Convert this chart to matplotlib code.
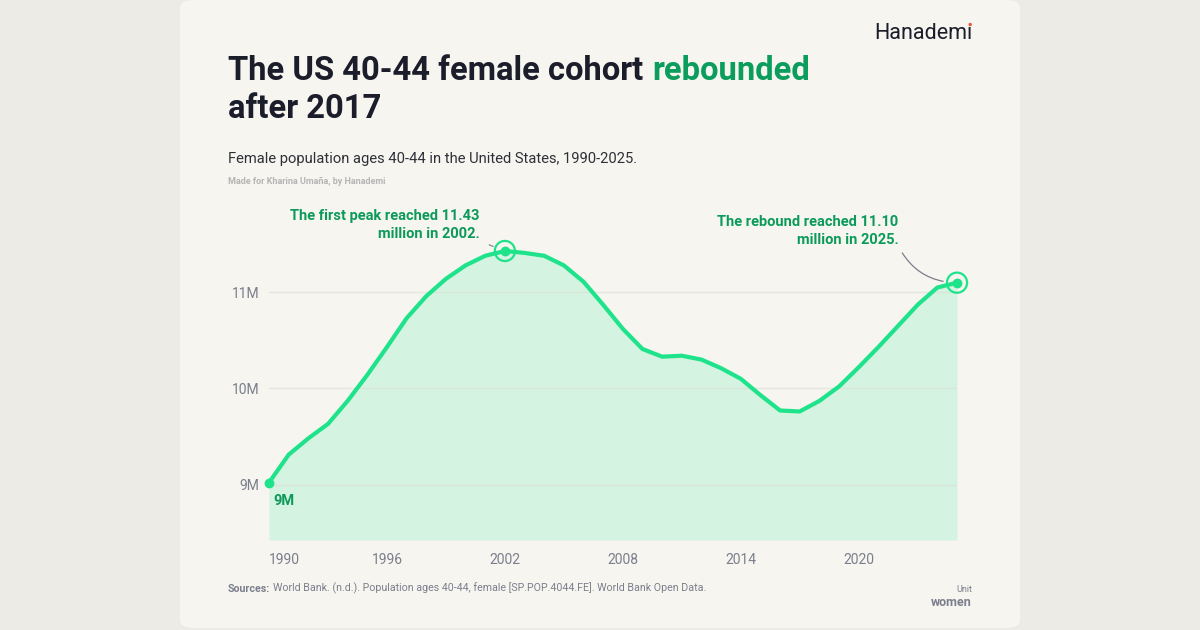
import numpy as np
import matplotlib.pyplot as plt
from matplotlib.patches import FancyBboxPatch, Ellipse

# data (millions of women aged 40-44)
years = list(range(1990, 2026))
women = [9.02, 9.31, 9.48, 9.63, 9.87, 10.14, 10.43, 10.73, 10.96, 11.14,
         11.28, 11.38, 11.43, 11.41, 11.38, 11.28, 11.11, 10.87, 10.62, 10.41,
         10.33, 10.34, 10.30, 10.21, 10.10, 9.93, 9.77, 9.76, 9.87, 10.02,
         10.22, 10.43, 10.65, 10.87, 11.05, 11.10]
x_ticks = [1990, 1996, 2002, 2008, 2014, 2020]
y_ticks = [9, 10, 11]
y_labels = ['9M', '10M', '11M']

W, H = 1200, 630
LINE = '#1ee38a'
FILL = '#d5f3e1'
DARKGREEN = '#0c9a5a'
INK = '#1b1d2a'
GREY = '#7b7e8c'

plt.rcParams['font.family'] = ['Roboto', 'DejaVu Sans']

fig = plt.figure(figsize=(W / 100, H / 100), dpi=100)
fig.patch.set_facecolor('#ecebe6')


def fx(px):
    return px / W


def fy(py):
    return 1 - py / H


# card
card = FancyBboxPatch((fx(180), fy(628)), fx(840), 628 / H,
                      boxstyle='round,pad=0,rounding_size=0.012',
                      transform=fig.transFigure, facecolor='#f6f5f0',
                      edgecolor='none', zorder=-5)
fig.patches.append(card)

# plot area: x 269..957, y 200..540 px
ymin = 9 - (540 - 484.5) / 96.1
ymax = 11 + (292.3 - 200) / 96.1
ax = fig.add_axes([fx(269), fy(540), fx(957 - 269), (540 - 200) / H])
ax.set_facecolor('none')
ax.set_xlim(1990, 2025)
ax.set_ylim(ymin, ymax)
for s in ax.spines.values():
    s.set_visible(False)

ax.fill_between(years, women, ymin, color=FILL, lw=0, zorder=1)
for v in y_ticks:
    ax.axhline(v, color='#dcdcd4', lw=1, alpha=0.6, zorder=2)
ax.plot(years, women, color=LINE, lw=3, solid_joinstyle='round', zorder=3,
        clip_on=False)

# markers
ax.scatter([years[0]], [women[0]], s=50, color=LINE, zorder=4, lw=0,
           clip_on=False)
for i in [years.index(2002), len(years) - 1]:
    ax.scatter([years[i]], [women[i]], s=50, color=LINE, zorder=4, lw=0,
               clip_on=False)
    ax.scatter([years[i]], [women[i]], s=210, facecolor='none',
               edgecolor=LINE, lw=1.6, zorder=4, clip_on=False)

ax.set_xticks(x_ticks)
ax.set_xticklabels([str(t) for t in x_ticks])
ax.set_yticks(y_ticks)
ax.set_yticklabels(y_labels)
ax.tick_params(length=0, colors=GREY, labelsize=10)
ax.tick_params(axis='x', pad=9)
ax.tick_params(axis='y', pad=7)
ax.get_xticklabels()[0].set_ha('left')

ax.annotate('9M', (1990, 9), xytext=(3, -12), textcoords='offset points',
            ha='left', va='center', fontsize=10.5, fontweight='bold',
            color=DARKGREEN, zorder=5)

# annotations
ax.annotate('The first peak reached 11.43\nmillion in 2002.', (2002, 11.43),
            xytext=(-18, 7), textcoords='offset points', ha='right', va='bottom',
            fontsize=10.5, fontweight='semibold', color=DARKGREEN,
            linespacing=1.35, annotation_clip=False,
            arrowprops=dict(arrowstyle='-', color=GREY, lw=0.8, relpos=(1, 0),
                            shrinkA=5, shrinkB=9))
ax.annotate('The rebound reached 11.10\nmillion in 2025.', (2025, 11.10),
            xytext=(-42, 26), textcoords='offset points', ha='right', va='bottom',
            fontsize=10.5, fontweight='semibold', color=DARKGREEN,
            linespacing=1.35, annotation_clip=False,
            arrowprops=dict(arrowstyle='-', color=GREY, lw=0.9, relpos=(1, 0),
                            shrinkA=3, shrinkB=10,
                            connectionstyle='arc3,rad=0.3'))

# title block
t1 = fig.text(fx(228), fy(80), 'The US 40-44 female cohort', fontsize=23.6,
              fontweight='bold', color=INK, va='baseline')
fig.text(fx(228), fy(118), 'after 2017', fontsize=23.6, fontweight='bold',
         color=INK, va='baseline')
fig.text(fx(228), fy(163), 'Female population ages 40-44 in the United States, 1990-2025.',
         fontsize=10.6, color='#2e3038', va='baseline')
fig.text(fx(228), fy(184), 'Made for Kharina Umaña, by Hanademi', fontsize=6.5,
         fontweight='semibold', color='#b5b5b5', va='baseline')

# logo, with the red tittle on the i
fig.text(fx(972), fy(39), 'Hanademı', fontsize=15.5, color=INK, ha='right',
         va='baseline')
fig.add_artist(Ellipse((fx(970.2), fy(24.5)), fx(3.4), 3.4 / H,
                       transform=fig.transFigure, color='#e8553a', lw=0))

# footer
src = fig.text(fx(228), fy(592), 'Sources:', fontsize=7.7, fontweight='bold',
               color=GREY, va='baseline')

fig.text(fx(972), fy(592), 'Unit', fontsize=6.5, color=GREY, ha='right',
         va='baseline')
fig.text(fx(972), fy(606), 'women', fontsize=9, fontweight='bold', color=GREY,
         ha='right', va='baseline')

# texts placed after the pieces they follow
fig.add_artist(plt.Annotation(
    'rebounded', xy=(1, 0), xycoords=t1, xytext=(9, 0),
    textcoords='offset pixels', fontsize=23.6, fontweight='bold',
    color='#0a9d5b', va='bottom', ha='left'))
fig.add_artist(plt.Annotation(
    'World Bank. (n.d.). Population ages 40-44, female [SP.POP.4044.FE]. '
    'World Bank Open Data.', xy=(1, 0), xycoords=src, xytext=(3, 0),
    textcoords='offset pixels', fontsize=7.7, color=GREY, va='bottom', ha='left'))

fig.savefig('out.png', dpi=100, facecolor=fig.get_facecolor())
